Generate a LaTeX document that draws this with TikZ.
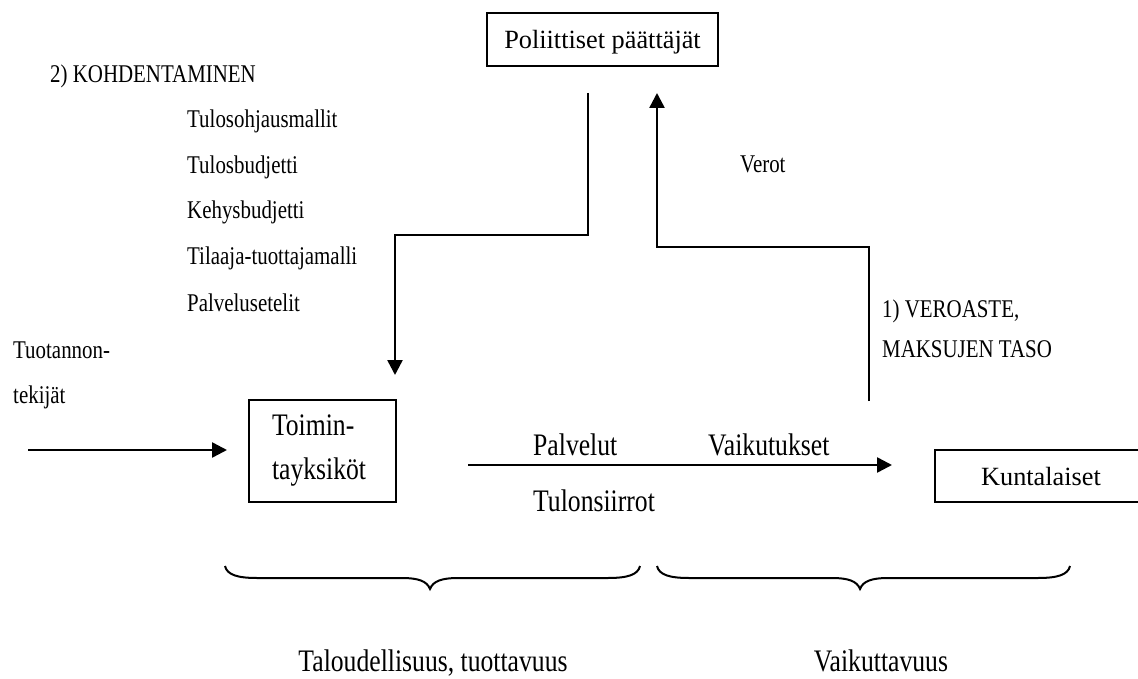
\documentclass[tikz,border=0pt]{standalone}
\usepackage{fontspec}
\setmainfont{Liberation Serif}
\newfontfamily\cnd[FakeStretch=0.82]{Liberation Serif}
\usetikzlibrary{arrows.meta,calc}
\begin{document}
\begin{tikzpicture}[x=1pt,y=-1pt,
  boxst/.style={draw,line width=2pt,inner sep=0pt,outer sep=0pt},
  arr/.style={line width=2.5pt,-{Triangle[length=15pt,width=15pt]}},
  small/.style={font=\cnd\fontsize{25.5}{30}\selectfont,inner sep=0pt,anchor=base west},
  big/.style={font=\cnd\fontsize{31.3}{44}\selectfont,inner sep=0pt},
  bracest/.style={line width=2pt}]
\useasboundingbox (0,0) rectangle (1138,679);

% boxes
\node[boxst,minimum width=231pt,minimum height=53pt,font=\fontsize{26.3}{30}\selectfont,text height=24pt,text depth=5pt] (pol) at (602.5,39.5) {Poliittiset päättäjät};
\node[boxst,minimum width=147pt,minimum height=102pt,inner xsep=23pt,text width=101pt,align=left,font=\cnd\fontsize{31.3}{44}\selectfont] (toim) at (322.5,451) {Toimin-\\tayksiköt};
\node[boxst,minimum width=212pt,minimum height=52pt,font=\fontsize{26.3}{30}\selectfont,text height=18pt,text depth=0pt] (kunta) at (1041,476) {Kuntalaiset};

% small texts
\node[small] (kohd) at (50,83) {2) KOHDENTAMINEN};
\node[small] (t1) at (187,128) {Tulosohjausmallit};
\node[small] (t2) at (187,174) {Tulosbudjetti};
\node[small] (t3) at (187,219) {Kehysbudjetti};
\node[small] (t4) at (187,265) {Tilaaja-tuottajamalli};
\node[small] (t5) at (187,311) {Palvelusetelit};
\node[small] (tuot1) at (13,358) {Tuotannon-};
\node[small] (tuot2) at (13,403) {tekijät};
\node[small] (verot) at (740,173) {Verot};
\node[small] (vero1) at (882,317) {1) VEROASTE,};
\node[small] (vero2) at (882,357) {MAKSUJEN TASO};

% big labels
\node[big,anchor=base west] (palv) at (533,455) {Palvelut};
\node[big,anchor=base west] (vaik) at (708,455) {Vaikutukset};
\node[big,anchor=base west] (tulon) at (533,511) {Tulonsiirrot};
\node[big,anchor=base] (talo) at (433,671) {Taloudellisuus, tuottavuus};
\node[big,anchor=base] (vaikt) at (881,671) {Vaikuttavuus};

% connectors
\coordinate (src) at (28,450);
\draw[arr] (src) -- ($(toim.west)+(-22,-1)$);
\draw[arr] ($(pol.south)+(-14.5,27)$) -- ++(0,142) -| ($(toim.north east)+(-1,-25)$);
\draw[arr] ($(kunta.north west)+(-66,-49)$) -- ++(0,-154) -| ($(pol.south)+(54.5,27)$);
\draw[arr] ($(toim.east)+(72,14)$) -- ($(kunta.west)+(-43,-11)$);

% braces
\draw[bracest] (225,566) .. controls (227,575) and (238,578) .. (257,578) -- (402,578) .. controls (418,578) and (427,581) .. (430,589) .. controls (433,581) and (442,578) .. (458,578) -- (608,578) .. controls (627,578) and (638,575) .. (640,566);
\draw[bracest] (657,566) .. controls (659,575) and (670,578) .. (689,578) -- (832,578) .. controls (848,578) and (857,581) .. (860,589) .. controls (863,581) and (872,578) .. (888,578) -- (1038,578) .. controls (1057,578) and (1068,575) .. (1070,566);
\end{tikzpicture}
\end{document}
